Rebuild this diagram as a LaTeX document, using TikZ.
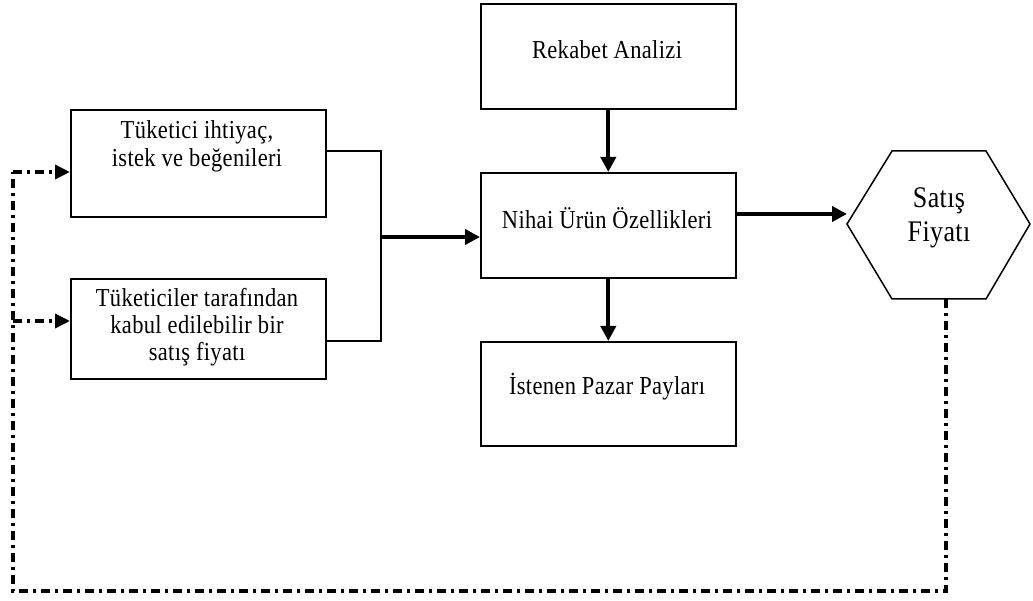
\documentclass[tikz,border=0pt]{standalone}
\usepackage{graphicx}
\usepackage{fontspec}
\setmainfont{Liberation Serif}[LetterSpace=1.5]
\usetikzlibrary{arrows.meta}
% tall, narrow lettering, centred lines
\newcommand\talltext[1]{\scalebox{1}[1.15]{\begin{tabular}{@{}c@{}}#1\end{tabular}}}
\begin{document}
\begin{tikzpicture}[x=1pt,y=-1pt,
  box/.style={draw, line width=1.6pt, inner sep=0pt, anchor=north west},
  txt/.style={align=center, font=\fontsize{22.5}{24.3}\selectfont, inner sep=0pt},
  flow/.style={line width=4pt, -{Triangle[length=15pt,width=15pt]}},
  bracket/.style={line width=1.6pt},
  feedback/.style={line width=3.5pt, dash pattern=on 9pt off 5pt on 3pt off 5pt},
  fbarrow/.style={feedback, -{Triangle[length=15pt,width=14pt]}}]
\useasboundingbox (0,0) rectangle (1033,601);

% left boxes
\node[box, minimum width=255pt, minimum height=107pt] (need) at (70,109) {};
\node[txt] (needt) at (197,147) {\talltext{Tüketici ihtiyaç,\\istek ve beğenileri}};
\node[box, minimum width=255pt, minimum height=100pt] (price) at (70,278) {};
\node[txt, font=\fontsize{22.5}{23.5}\selectfont] (pricet) at (197,328) {\talltext{Tüketiciler tarafından\\kabul edilebilir bir\\satış fiyatı}};

% centre column
\node[box, minimum width=255pt, minimum height=105pt] (comp) at (480,3) {};
\node[txt] (compt) at (607,53) {\talltext{Rekabet Analizi}};
\node[box, minimum width=255pt, minimum height=105pt] (feat) at (480,172) {};
\node[txt] (featt) at (607,222) {\talltext{Nihai Ürün Özellikleri}};
\node[box, minimum width=255pt, minimum height=104pt] (share) at (480,341) {};
\node[txt] (sharet) at (607,388) {\talltext{İstenen Pazar Payları}};

% selling price hexagon
\coordinate (hL) at (847,224);
\coordinate (hTL) at (892,151);
\coordinate (hTR) at (986,151);
\coordinate (hR) at (1030,224);
\coordinate (hBR) at (986,299);
\coordinate (hBL) at (892,299);
\draw[line width=1.5pt] (hL) -- (hTL) -- (hTR) -- (hR) -- (hBR) -- (hBL) -- cycle;
\node[txt, font=\fontsize{26}{29}\selectfont] (sell) at (939,218) {\talltext{Satış\\Fiyatı}};

% joining bracket and flow arrows
\coordinate (j) at (381,237);
\draw[bracket] (need.east |- 0,151) -| (j);
\draw[bracket] (price.east |- 0,341) -| (j);
\draw[flow] (j) -- (j -| feat.west);
\draw[flow] (comp.south) -- (feat.north);
\draw[flow] (feat.south) -- (share.north);
\draw[flow] (feat.east |- 0,214) -- (hL |- 0,214);

% feedback loop
\coordinate (fb0) at (946,299);
\coordinate (fb1) at (946,591);
\coordinate (fb2) at (13,591);
\coordinate (fb3) at (13,172);
\coordinate (fb4) at (13,321);
\draw[feedback] (fb0) -- (fb1) -- (fb2) -- (fb3);
\draw[fbarrow] (fb3) -- (need.west |- fb3);
\draw[fbarrow] (fb4) -- (price.west |- fb4);
\end{tikzpicture}
\end{document}
